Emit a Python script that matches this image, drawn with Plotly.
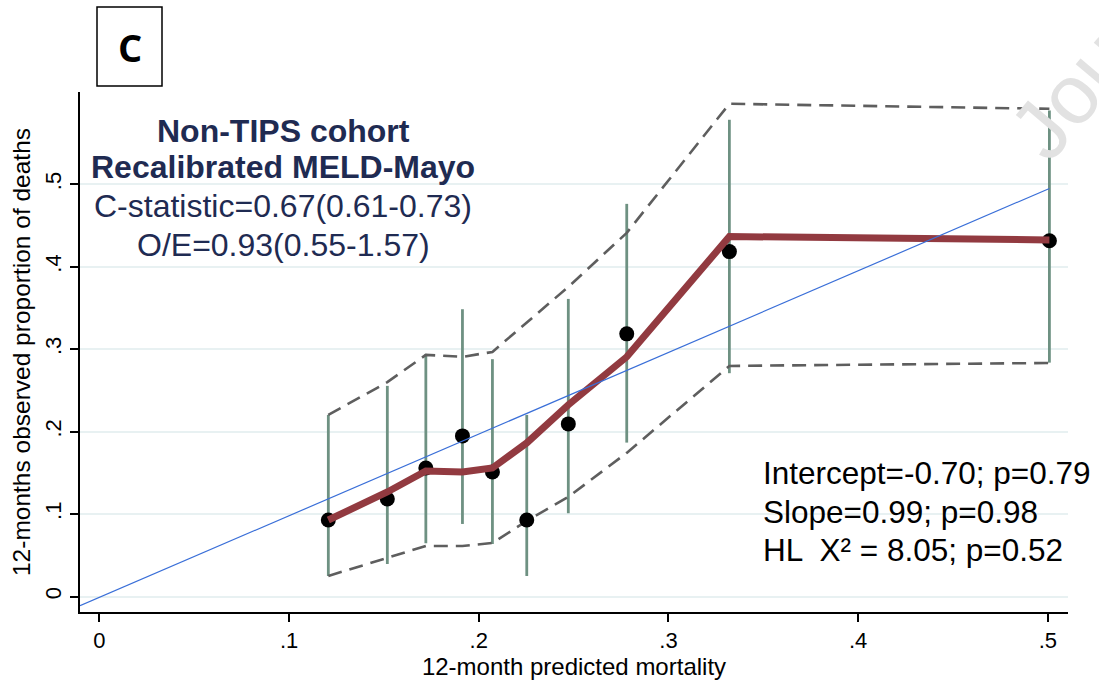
import plotly.graph_objects as go

# ---- data ----
pred = [0.1207, 0.1518, 0.1721, 0.1914, 0.2072, 0.2253, 0.2472, 0.2780, 0.3321, 0.5008]
obs = [0.0928, 0.1183, 0.1559, 0.1948, 0.1511, 0.0928, 0.2094, 0.3186, 0.4184, 0.4315]
obs_lo = [0.0249, 0.0394, 0.0646, 0.0880, 0.0637, 0.0249, 0.1010, 0.1867, 0.2709, 0.2837]
obs_hi = [0.2203, 0.2555, 0.2943, 0.3485, 0.2879, 0.2203, 0.3610, 0.4763, 0.5783, 0.5896]
smooth = [0.0928, 0.1268, 0.1523, 0.1511, 0.1559, 0.1863, 0.2324, 0.2907, 0.4367, 0.4326]
smooth_lo = [0.0249, 0.0467, 0.0613, 0.0613, 0.0649, 0.0916, 0.1208, 0.1742, 0.2797, 0.2833]
smooth_hi = [0.2203, 0.2600, 0.2931, 0.2907, 0.2967, 0.3319, 0.3756, 0.4411, 0.5977, 0.5916]
ref_x = [-0.0102, 0.5008]
ref_y = [-0.0112, 0.4950]

tick_vals = [0, 0.1, 0.2, 0.3, 0.4, 0.5]
tick_text = ["0", ".1", ".2", ".3", ".4", ".5"]

FONT = "Liberation Sans, Arial, sans-serif"
NAVY = "#1F2B52"

fig = go.Figure()

# vertical error bars
bx, by = [], []
for x, lo, hi in zip(pred, obs_lo, obs_hi):
    bx += [x, x, None]
    by += [lo, hi, None]
fig.add_trace(go.Scatter(x=bx, y=by, mode="lines",
                         line=dict(color="#6E9182", width=2.8),
                         hoverinfo="skip", showlegend=False))

# dashed CI of smoother
for band in (smooth_lo, smooth_hi):
    fig.add_trace(go.Scatter(x=pred, y=band, mode="lines",
                             line=dict(color="#5E5E5E", width=2.6, dash="14px,8px"),
                             showlegend=False))

# observed points
fig.add_trace(go.Scatter(x=pred, y=obs, mode="markers",
                         marker=dict(color="black", size=15),
                         showlegend=False))

# smoother
fig.add_trace(go.Scatter(x=pred, y=smooth, mode="lines",
                         line=dict(color="#923A40", width=7),
                         showlegend=False))

# reference line
fig.add_trace(go.Scatter(x=ref_x, y=ref_y, mode="lines",
                         line=dict(color="#3A6FD8", width=1.2),
                         showlegend=False))

axis_common = dict(
    showline=True, linecolor="black", linewidth=2,
    ticks="outside", ticklen=8, tickwidth=2, tickcolor="black",
    tickvals=tick_vals, ticktext=tick_text,
    zeroline=False,
    tickfont=dict(family=FONT, size=22, color="black"),
)

fig.update_xaxes(range=[-0.0102, 0.5106], showgrid=False,
                 title=dict(text="12-month predicted mortality",
                            font=dict(family=FONT, size=24, color="black"),
                            standoff=0),
                 **axis_common)
fig.update_yaxes(range=[-0.0188, 0.612], showgrid=True,
                 gridcolor="#E8F1F2", gridwidth=2, tickangle=-90,
                 title=dict(text="12-months observed proportion of deaths",
                            font=dict(family=FONT, size=24.5, color="black"),
                            standoff=4),
                 **axis_common)

ann = []
left_lines = [
    ("<b>Non-TIPS cohort</b>", 131),
    ("<b>Recalibrated MELD-Mayo</b>", 167),
    ("C-statistic=0.67(0.61-0.73)", 206),
    ("O/E=0.93(0.55-1.57)", 245),
]
for txt, py in left_lines:
    ann.append(dict(text=txt, x=283, y=py, xanchor="center",
                    font=dict(family=FONT, size=32, color=NAVY)))

right_lines = [
    ("Intercept=-0.70; p=0.79", 473),
    ("Slope=0.99; p=0.98", 512),
    ("HL  X² = 8.05; p=0.52", 550),
]
for txt, py in right_lines:
    ann.append(dict(text=txt, x=761, y=py, xanchor="left",
                    font=dict(family=FONT, size=31.5, color="black")))

# panel letter
ann.append(dict(text="<b>C</b>", x=130, y=47, xanchor="center",
                font=dict(family="Open Sans, sans-serif", size=38, color="black")))
# watermark fragment
ann.append(dict(text="Jou", x=1070, y=95, xanchor="center", textangle=-50,
                font=dict(family=FONT, size=84, color="#E2E2E2")))

# convert page-pixel coords into plot-area paper coords
L, R, T, B = 80, 31, 92, 70
W, H = 1099, 682
pw, ph = W - L - R, H - T - B
for a in ann:
    px, py = a["x"], a["y"]
    a.update(x=(px - L) / pw, y=1 - (py - T) / ph, xref="paper", yref="paper",
             yanchor="middle", showarrow=False)

fig.update_layout(
    width=W, height=H,
    margin=dict(l=L, r=R, t=T, b=B),
    paper_bgcolor="white", plot_bgcolor="white",
    annotations=ann,
    shapes=[dict(type="rect", xref="paper", yref="paper",
                 x0=(97 - L) / pw, x1=(162 - L) / pw,
                 y0=1 - (86 - T) / ph, y1=1 - (7 - T) / ph,
                 line=dict(color="black", width=1.5), fillcolor="rgba(0,0,0,0)",
                 layer="above")],
)

fig.write_html("out.html", config={"displayModeBar": False},
               post_script="document.body.style.margin='0';document.body.style.overflow='hidden';")
